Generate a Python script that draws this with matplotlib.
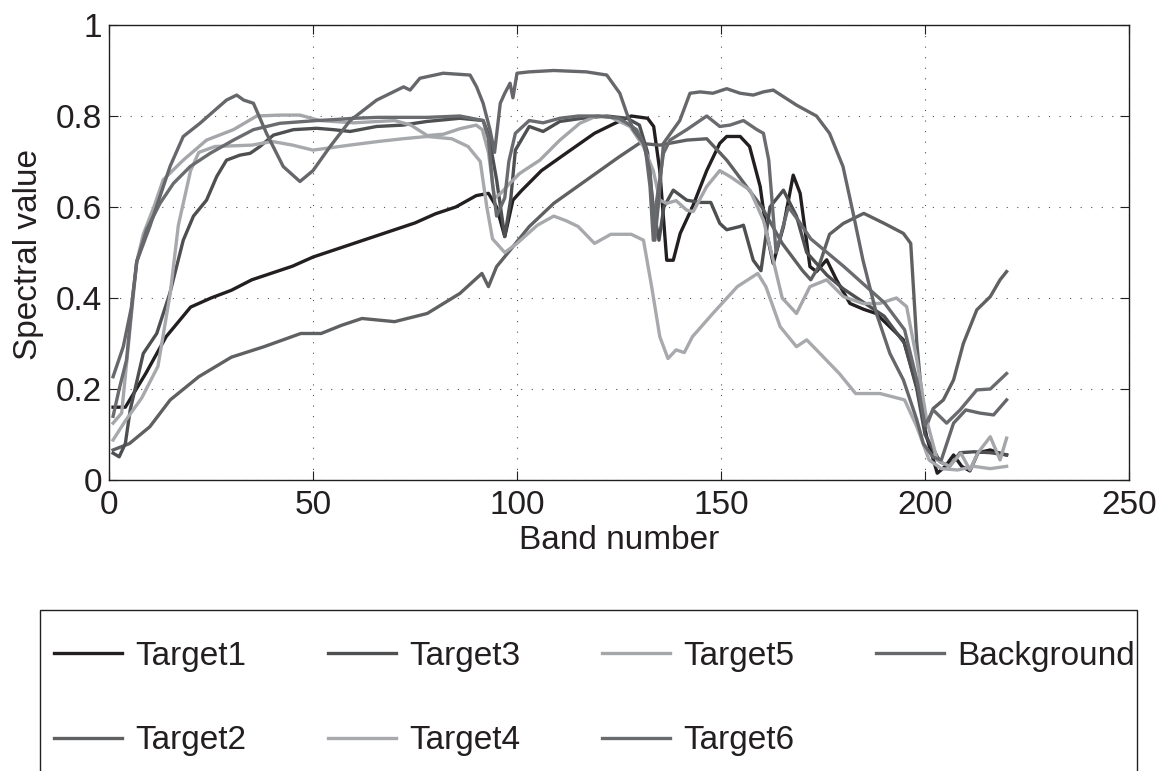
import matplotlib
matplotlib.use("Agg")
import matplotlib.pyplot as plt
from matplotlib.patches import Rectangle

# Spectral curves (band number, spectral value)
t1_band = [1, 4, 9, 14, 20, 25, 30, 35, 40, 45, 50, 55, 60, 65, 70, 75, 80, 85, 90, 93,
           95, 97, 99, 101, 106, 112, 119, 124, 128, 132, 133.5, 135, 136.7, 138.3, 140,
           143, 146.5, 149.7, 151.4, 154.7, 157, 159.6, 161.2, 162.8, 165.3, 167.7, 169.4,
           171.8, 173.4, 175.9, 178.3, 181.6, 185, 188, 191, 194.7, 198, 200.4, 203, 205,
           207, 209, 211, 213, 216, 218, 220]
t1_val = [0.16, 0.16, 0.234, 0.315, 0.38, 0.40, 0.417, 0.44, 0.455, 0.47, 0.49, 0.505, 0.52,
          0.535, 0.55, 0.565, 0.585, 0.60, 0.625, 0.63, 0.60, 0.535, 0.615, 0.635, 0.68,
          0.718, 0.762, 0.784, 0.80, 0.795, 0.777, 0.68, 0.483, 0.483, 0.542, 0.60, 0.68,
          0.74, 0.755, 0.755, 0.733, 0.645, 0.542, 0.476, 0.557, 0.67, 0.63, 0.469, 0.458,
          0.484, 0.44, 0.388, 0.375, 0.366, 0.34, 0.308, 0.205, 0.095, 0.015, 0.03, 0.055,
          0.03, 0.02, 0.06, 0.066, 0.06, 0.055]

t2_band = [1, 5, 10, 15, 22, 30, 38, 47, 52, 57, 62, 70, 78, 86, 91.4, 93, 95, 98.3, 103,
           109, 117, 125, 130, 135, 141.6, 146.5, 151.4, 155, 160, 165, 170, 172, 174, 176.6,
           180, 185, 190, 194.7, 196.5, 198, 200, 202, 204.5, 207, 209.4, 212.7, 216, 218.4, 220]
t2_val = [0.066, 0.08, 0.117, 0.176, 0.227, 0.27, 0.293, 0.322, 0.322, 0.34, 0.355, 0.348,
          0.366, 0.41, 0.454, 0.425, 0.469, 0.505, 0.557, 0.608, 0.659, 0.71, 0.74, 0.736,
          0.747, 0.75, 0.703, 0.66, 0.6, 0.52, 0.46, 0.44, 0.47, 0.54, 0.564, 0.586, 0.564,
          0.542, 0.52, 0.30, 0.11, 0.157, 0.176, 0.22, 0.30, 0.374, 0.403, 0.44, 0.458]

t3_band = [1, 2.5, 4, 5.2, 8.4, 11.7, 14.9, 18.2, 20.7, 23.9, 26.4, 28.8, 32.1, 34.6, 37,
           40.3, 45.2, 50.9, 55, 59.1, 65.6, 72, 77.9, 86, 91.7, 93, 95, 97, 98.5, 99.6, 103,
           106.4, 110.5, 116, 122, 127, 130, 132, 133.4, 134.8, 136, 138.3, 141.6, 144.9,
           147.5, 149.7, 151.4, 154.6, 155.5, 157.9, 159.8, 162, 165.3, 168.5, 171, 173, 176,
           180, 185, 190, 195, 198, 200, 203.7, 206, 208.6, 212, 216, 220]
t3_val = [0.059, 0.051, 0.08, 0.154, 0.278, 0.322, 0.41, 0.527, 0.58, 0.615, 0.667, 0.703,
          0.714, 0.718, 0.733, 0.758, 0.77, 0.773, 0.77, 0.766, 0.777, 0.78, 0.788, 0.795,
          0.79, 0.76, 0.66, 0.535, 0.62, 0.725, 0.777, 0.766, 0.788, 0.795, 0.80, 0.795, 0.78,
          0.72, 0.60, 0.527, 0.60, 0.637, 0.615, 0.61, 0.61, 0.564, 0.55, 0.557, 0.56, 0.483,
          0.46, 0.60, 0.637, 0.58, 0.50, 0.48, 0.45, 0.42, 0.39, 0.36, 0.30, 0.2, 0.1, 0.04,
          0.03, 0.06, 0.062, 0.06, 0.055]

t4_band = [1, 4, 8, 12, 15, 17, 20, 22, 26, 35, 40, 45, 50, 59, 66, 72, 78, 84, 88, 91, 92.6,
           94, 97, 100, 105, 109, 112, 115, 119, 123, 128, 131, 133, 135, 137, 139, 141, 143,
           148, 154, 159, 161, 164.5, 168.5, 171, 173.4, 179, 183, 189, 195, 198, 201, 204,
           208, 212, 216, 220]
t4_val = [0.088, 0.13, 0.18, 0.25, 0.41, 0.56, 0.68, 0.72, 0.733, 0.736, 0.744, 0.736, 0.725,
          0.736, 0.744, 0.75, 0.755, 0.75, 0.733, 0.70, 0.60, 0.53, 0.50, 0.52, 0.56, 0.58,
          0.57, 0.557, 0.52, 0.54, 0.54, 0.527, 0.425, 0.315, 0.267, 0.286, 0.28, 0.315,
          0.366, 0.425, 0.454, 0.425, 0.337, 0.293, 0.308, 0.286, 0.234, 0.19, 0.19, 0.176,
          0.117, 0.044, 0.025, 0.022, 0.03, 0.025, 0.03]

t5_band = [1, 3.1, 5.2, 6.8, 8.4, 11, 13.3, 18.2, 23.9, 30.5, 36.2, 41.9, 46.8, 51.7, 60, 70,
           74, 78, 82, 86, 90, 91.5, 93, 94.5, 96, 98, 100.7, 105.6, 110.5, 115.4, 119.5, 123,
           127.7, 131, 133.4, 135, 136.7, 139, 141.6, 143.2, 146.5, 149.7, 152.2, 157.1,
           160.4, 162.8, 165, 168.5, 171.8, 175.9, 180, 184.8, 188.9, 193, 195.5, 198, 200.4,
           203, 206, 208.8, 211, 213, 216, 218.4, 220]
t5_val = [0.125, 0.147, 0.337, 0.48, 0.54, 0.60, 0.66, 0.703, 0.747, 0.77, 0.80, 0.802, 0.802,
          0.79, 0.785, 0.79, 0.78, 0.757, 0.76, 0.772, 0.78, 0.77, 0.72, 0.62, 0.63, 0.65,
          0.674, 0.703, 0.747, 0.784, 0.80, 0.797, 0.777, 0.733, 0.68, 0.615, 0.608, 0.614,
          0.593, 0.59, 0.645, 0.68, 0.667, 0.637, 0.571, 0.483, 0.40, 0.366, 0.425, 0.44,
          0.403, 0.388, 0.388, 0.40, 0.381, 0.264, 0.132, 0.044, 0.03, 0.059, 0.022, 0.06,
          0.095, 0.044, 0.092]

t6_band = [1, 2.5, 4.3, 5.9, 6.8, 9.2, 12.5, 15.8, 19.9, 24.8, 30.5, 35.4, 41.9, 50.9, 55, 60,
           66, 72, 78, 86, 91.7, 93, 94, 95, 97, 98, 99.6, 103, 106.4, 110.5, 115, 120, 125,
           127, 129.3, 131.4, 132.6, 133.4, 134, 135.9, 137.5, 141.6, 146.5, 149.7, 152.2,
           155.5, 158.8, 160.4, 161.7, 162.5, 163.5, 165, 166.5, 169, 172, 176, 180, 185, 190,
           195, 198, 200, 202, 205.3, 208.6, 212.7, 216, 220]
t6_val = [0.14, 0.2, 0.264, 0.41, 0.48, 0.55, 0.608, 0.652, 0.689, 0.718, 0.747, 0.77, 0.784,
          0.79, 0.792, 0.795, 0.797, 0.797, 0.797, 0.8, 0.79, 0.75, 0.65, 0.58, 0.62, 0.70,
          0.762, 0.79, 0.785, 0.795, 0.80, 0.80, 0.795, 0.784, 0.77, 0.733, 0.645, 0.527,
          0.60, 0.718, 0.747, 0.77, 0.80, 0.777, 0.78, 0.79, 0.77, 0.762, 0.703, 0.615, 0.50,
          0.55, 0.60, 0.57, 0.53, 0.50, 0.47, 0.43, 0.39, 0.33, 0.22, 0.12, 0.154, 0.125,
          0.154, 0.198, 0.2, 0.234]

bg_band = [1, 3.5, 5.5, 6.8, 10, 15, 18.2, 22.3, 25.6, 28.8, 31.3, 33, 35.4, 38.6, 42.7, 46.8,
           50, 54.2, 59.1, 65.6, 72.2, 73.8, 76.2, 81.9, 88.5, 90.1, 91.7, 93.4, 94.5, 95.9,
           97, 98.3, 99, 100, 103, 109, 117, 122, 125.2, 126.9, 128.5, 131, 132.6, 133.8,
           134.8, 135.9, 139.9, 142.4, 144.9, 148, 151.4, 154.7, 157.9, 160.4, 162.8, 168.5,
           173.4, 176.6, 179.9, 182.4, 184.8, 188.1, 191.4, 194.7, 198, 199.6, 202, 204, 207,
           210, 213.5, 216.8, 220]
bg_val = [0.227, 0.293, 0.38, 0.48, 0.557, 0.69, 0.755, 0.784, 0.81, 0.835, 0.846, 0.835,
          0.828, 0.762, 0.689, 0.656, 0.68, 0.733, 0.79, 0.835, 0.864, 0.857, 0.883, 0.894,
          0.89, 0.864, 0.828, 0.769, 0.72, 0.828, 0.85, 0.872, 0.84, 0.894, 0.897, 0.9, 0.897,
          0.89, 0.85, 0.806, 0.77, 0.74, 0.68, 0.527, 0.62, 0.74, 0.79, 0.85, 0.853, 0.85,
          0.86, 0.85, 0.846, 0.853, 0.857, 0.824, 0.8, 0.762, 0.689, 0.586, 0.483, 0.366,
          0.278, 0.22, 0.132, 0.08, 0.05, 0.044, 0.125, 0.154, 0.147, 0.143, 0.176]

labels = ["Target1", "Target2", "Target3", "Target4", "Target5", "Target6", "Background"]
colors = ["#231f20", "#5f6062", "#4e4f51", "#a7a9ac", "#a4a6a9", "#6a6b6e", "#66676a"]
series = [(t1_band, t1_val), (t2_band, t2_val), (t3_band, t3_val), (t4_band, t4_val),
          (t5_band, t5_val), (t6_band, t6_val), (bg_band, bg_val)]

plt.rcParams["font.family"] = ["Liberation Sans", "DejaVu Sans"]

fig = plt.figure(figsize=(11.6, 7.71), dpi=100)
ax = fig.add_axes([109 / 1160, 1 - 480 / 771, 1020 / 1160, 455 / 771])

for (band, val), lab, col in zip(series, labels, colors):
    ax.plot(band, val, color=col, lw=2.4, label=lab, solid_joinstyle="round")

ax.set_xlim(0, 250)
ax.set_ylim(0, 1)
ax.set_xticks([0, 50, 100, 150, 200, 250])
ax.set_yticks([0, 0.2, 0.4, 0.6, 0.8, 1.0])
ax.set_yticklabels(["0", "0.2", "0.4", "0.6", "0.8", "1"])
ax.tick_params(direction="in", top=True, right=True, length=6.5, width=0.8,
               labelsize=24, colors="#231f20", pad=5)
ax.tick_params(axis="x", pad=7)
ax.grid(True, color="#555555", lw=0.8, linestyle=(0, (1, 8.5)))
for sp in ax.spines.values():
    sp.set_color("#231f20")
    sp.set_linewidth(1.0)

ax.set_xlabel("Band number", fontsize=24, color="#231f20")
ax.xaxis.set_label_coords(0.5, -0.132)
ax.xaxis.label.set_verticalalignment("center")
ax.set_ylabel("Spectral value", fontsize=24, color="#231f20")
ax.yaxis.set_label_coords(-0.079, 0.495)
ax.yaxis.label.set_verticalalignment("center")

# Legend below the plot, frame open at the bottom (cut off by the image edge)
handles, labs = ax.get_legend_handles_labels()
leg = fig.legend(handles, labs, ncol=4, loc="upper left",
                 bbox_to_anchor=(54 / 1160, 1 - 641 / 771),
                 frameon=False, fontsize=24, handlelength=2.04, handletextpad=0.4,
                 columnspacing=2.45, labelspacing=1.6, borderpad=0, borderaxespad=0)
for txt in leg.get_texts():
    txt.set_color("#231f20")
fig.add_artist(Rectangle((40 / 1160, -0.1), (1137 - 40) / 1160, 0.1 + (771 - 610) / 771,
                         transform=fig.transFigure, fill=False, ec="#231f20", lw=1.0))

fig.savefig("out.png", dpi=100)
